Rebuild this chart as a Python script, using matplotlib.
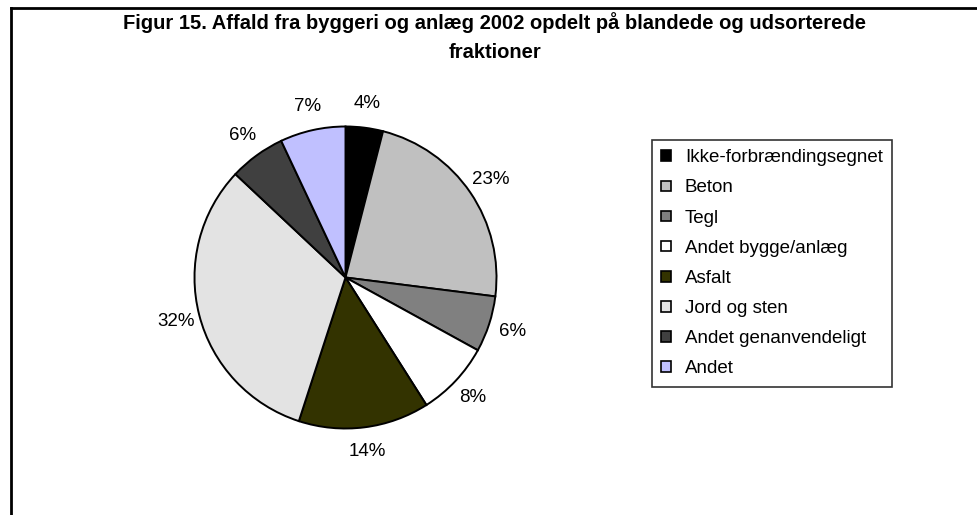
import matplotlib
matplotlib.use("Agg")
import matplotlib.pyplot as plt
import matplotlib.patches as mpatches
from matplotlib.lines import Line2D

plt.rcParams['font.family'] = ['Liberation Sans', 'DejaVu Sans']

# data
categories = ['Ikke-forbrændingsegnet', 'Beton', 'Tegl', 'Andet bygge/anlæg',
              'Asfalt', 'Jord og sten', 'Andet genanvendeligt', 'Andet']
shares = [4, 23, 6, 8, 14, 32, 6, 7]
colors = ['#000000', '#c0c0c0', '#808080', '#ffffff',
          '#333300', '#e3e3e3', '#404040', '#c0c0ff']
title = 'Figur 15. Affald fra byggeri og anlæg 2002 opdelt på blandede og udsorterede\nfraktioner'

W, H = 978, 515
fig = plt.figure(figsize=(W / 100, H / 100), dpi=100)

# outer chart frame (only left and top visible in the crop)
fig.add_artist(Line2D([11.5 / W, 11.5 / W], [0, 1 - 7.5 / H], transform=fig.transFigure,
                      color='black', lw=2))
fig.add_artist(Line2D([11.5 / W, 1], [1 - 7.5 / H, 1 - 7.5 / H], transform=fig.transFigure,
                      color='black', lw=2))

fig.text(495 / W, 1 - 12 / H, title, ha='center', va='top', fontsize=14.5,
         fontweight='bold', linespacing=1.7)

# pie axes
cx, cy, r = 345.5, 277.5, 151
ax = fig.add_axes([(cx - r) / W, (H - cy - r) / H, 2 * r / W, 2 * r / H])
wedges, texts = ax.pie(shares, colors=colors, startangle=90, counterclock=False,
                       labels=[f'{v}%' for v in shares], labeldistance=1.16,
                       wedgeprops=dict(edgecolor='black', linewidth=1.4),
                       textprops=dict(fontsize=13.5))
for t in texts:
    t.set_ha('center')
    t.set_va('center')
ax.set_aspect('equal')
ax.set_xlim(-1, 1)
ax.set_ylim(-1, 1)

handles = [mpatches.Patch(facecolor=c, edgecolor='black', linewidth=1.2) for c in colors]
leg = fig.legend(handles, categories, loc='upper left',
                 bbox_to_anchor=(652 / W, 1 - 140 / H), frameon=True, fancybox=False,
                 fontsize=13.5, handlelength=0.5, handleheight=0.5, handletextpad=0.75,
                 labelspacing=0.7, borderpad=0.5, borderaxespad=0)
leg.get_frame().set_edgecolor('black')
leg.get_frame().set_linewidth(1.2)

fig.savefig('out.png', dpi=100)
